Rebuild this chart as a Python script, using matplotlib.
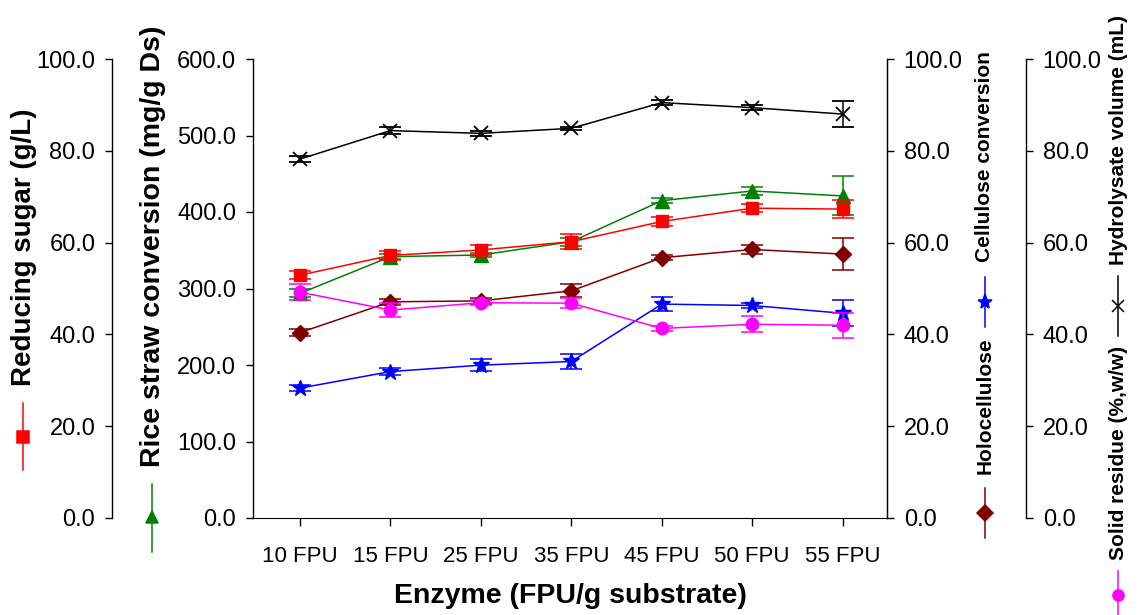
import matplotlib
matplotlib.use("Agg")
import matplotlib.pyplot as plt
from matplotlib.lines import Line2D
from matplotlib.ticker import FormatStrFormatter, MultipleLocator

plt.rcParams['font.family'] = ['Liberation Sans', 'DejaVu Sans']

enzyme = ["10 FPU", "15 FPU", "25 FPU", "35 FPU", "45 FPU", "50 FPU", "55 FPU"]

# reducing sugar (g/L)
sugar = [52.9, 57.2, 58.4, 60.2, 64.6, 67.5, 67.3]
sugar_err = [0.9, 0.9, 1.0, 1.7, 0.9, 0.9, 2.0]
# rice straw conversion (mg/g Ds)
straw = [293.7, 341.6, 343.8, 361.2, 414.8, 427.5, 421.0]
straw_err = [5.0, 3.0, 3.0, 5.0, 3.0, 5.0, 25.5]
# cellulose / holocellulose conversion (%)
cellulose = [28.3, 31.9, 33.3, 34.1, 46.6, 46.3, 44.6]
cellulose_err = [0.6, 0.7, 1.3, 1.6, 1.5, 0.6, 2.8]
holocell = [40.4, 47.1, 47.3, 49.5, 56.7, 58.5, 57.5]
holocell_err = [0.8, 0.6, 0.7, 1.4, 0.5, 1.0, 3.5]
# hydrolysate volume (mL) and solid residue (%, w/w)
volume = [78.2, 84.4, 83.8, 84.9, 90.5, 89.4, 88.0]
volume_err = [0.6, 0.7, 0.6, 0.3, 0.6, 0.6, 2.8]
residue = [49.2, 45.3, 46.9, 46.8, 41.3, 42.2, 42.0]
residue_err = [1.7, 1.5, 0.6, 1.1, 0.6, 1.7, 2.7]

W, H = 1139, 615
fig = plt.figure(figsize=(W / 100, H / 100), dpi=100)
ax = fig.add_axes([253 / W, (H - 518) / H, 634 / W, 459 / H])
ax_rs = ax.twinx()
ax_cc = ax.twinx()
ax_hv = ax.twinx()

x = list(range(len(enzyme)))
tick_fs = 17

def style_axis(a, side, offset_px, top, step):
    for s in ["top", "bottom", "left", "right"]:
        a.spines[s].set_visible(False)
    a.spines[side].set_visible(True)
    a.spines[side].set_position(("outward", offset_px * 0.72))
    a.spines[side].set_linewidth(1.0)
    a.yaxis.set_ticks_position(side)
    a.set_ylim(0, top)
    a.yaxis.set_major_locator(MultipleLocator(step))
    a.yaxis.set_major_formatter(FormatStrFormatter("%.1f"))
    a.tick_params(axis="y", direction="out", length=5, width=1.0,
                  labelsize=tick_fs, pad=7)

style_axis(ax, "left", 0, 600, 100)
ax.spines["bottom"].set_visible(True)
ax.spines["right"].set_visible(True)
style_axis(ax_rs, "left", 141, 100, 20)
style_axis(ax_cc, "right", 0, 100, 20)
style_axis(ax_hv, "right", 139, 100, 20)

ax.set_xlim(-0.52, 6.49)
ax.set_xticks(x)
ax.set_xticklabels(enzyme, fontsize=16)
ax.tick_params(axis="x", direction="out", length=6, width=1.0, pad=14)
ax.set_xlabel("Enzyme (FPU/g substrate)", fontsize=20.5, fontweight="bold",
              labelpad=12)

eb = dict(lw=1.1, elinewidth=1.1, capsize=8, capthick=1.1)
ax_hv.errorbar(x, volume, yerr=volume_err, color="black", marker="x", ms=10,
               mew=1.3, **eb)
ax_rs.errorbar(x, sugar, yerr=sugar_err, color="#ff0000", marker="s", ms=9, **eb)
ax.errorbar(x, straw, yerr=straw_err, color="#008000", marker="^", ms=9.5, **eb)
ax_cc.errorbar(x, holocell, yerr=holocell_err, color="#800000", marker="D", ms=8, **eb)
ax_cc.errorbar(x, cellulose, yerr=cellulose_err, color="#0000ff", marker="*", ms=12, **eb)
ax_hv.errorbar(x, residue, yerr=residue_err, color="#ff00ff", marker="o", ms=9, **eb)

# rotated axis titles with their series symbols
def fy(py):
    return (H - py) / H

def title(px, py, text, size):
    fig.text(px / W, fy(py), text, rotation=90, ha="center", va="center",
             fontsize=size, fontweight="bold")

def symbol(px, py, y0, y1, color, marker, ms):
    fig.add_artist(Line2D([px / W, px / W], [fy(y0), fy(y1)], color=color,
                          lw=1.1, transform=fig.transFigure))
    fig.add_artist(Line2D([px / W], [fy(py)], color=color, marker=marker, ms=ms,
                          mew=1.1, transform=fig.transFigure))

title(24, 247, "Reducing sugar (g/L)", 20)
symbol(23, 437, 403, 470, "#ff0000", "s", 8)
title(153, 246, "Rice straw conversion (mg/g Ds)", 20.5)
symbol(152, 517, 484, 552, "#008000", "^", 9)
title(985, 157, "Cellulose conversion", 15)
symbol(985, 302, 277, 327, "#0000ff", "*", 11)
title(985, 406, "Holocellulose", 15)
symbol(985, 513, 488, 538, "#800000", "D", 8)
title(1118, 140, "Hydrolysate volume (mL)", 15)
symbol(1118, 306, 276, 336, "black", "x", 9)
title(1118, 453, "Solid residue (%,w/w)", 15)
symbol(1118, 595, 571, 620, "#ff00ff", "o", 8)

fig.savefig("out.png", dpi=100)
